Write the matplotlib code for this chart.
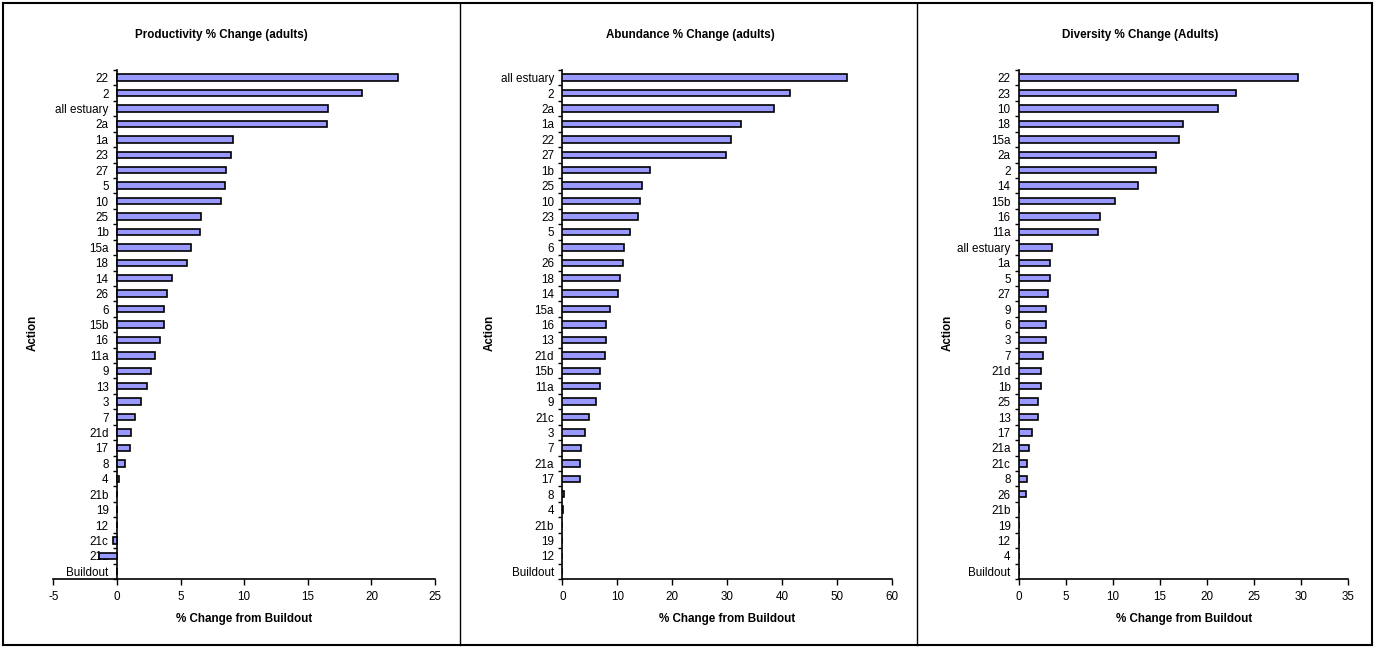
import numpy as np
import matplotlib
matplotlib.use("Agg")
import matplotlib.pyplot as plt
from matplotlib.lines import Line2D
from matplotlib.ticker import FixedLocator

plt.rcParams['font.family'] = ['Liberation Sans', 'DejaVu Sans']
plt.rcParams['axes.unicode_minus'] = False

# Productivity % change (adults)
prod_actions = ["22", "2", "all estuary", "2a", "1a", "23", "27", "5", "10", "25", "1b",
                "15a", "18", "14", "26", "6", "15b", "16", "11a", "9", "13", "3", "7",
                "21d", "17", "8", "4", "21b", "19", "12", "21c", "21a", "Buildout"]
prod_values = [22.1, 19.3, 16.6, 16.5, 9.1, 9.0, 8.6, 8.5, 8.2, 6.6, 6.5,
               5.8, 5.5, 4.3, 3.9, 3.7, 3.7, 3.4, 3.0, 2.7, 2.4, 1.9, 1.4,
               1.1, 1.0, 0.6, 0.15, 0, 0, 0, -0.3, -1.4, 0]

# Abundance % change (adults)
abund_actions = ["all estuary", "2", "2a", "1a", "22", "27", "1b", "25", "10", "23", "5",
                 "6", "26", "18", "14", "15a", "16", "13", "21d", "15b", "11a", "9",
                 "21c", "3", "7", "21a", "17", "8", "4", "21b", "19", "12", "Buildout"]
abund_values = [51.8, 41.5, 38.5, 32.6, 30.7, 29.8, 15.9, 14.5, 14.1, 13.8, 12.3,
                11.2, 11.1, 10.6, 10.2, 8.7, 8.0, 7.9, 7.8, 6.9, 6.9, 6.2,
                4.8, 4.1, 3.4, 3.3, 3.3, 0.4, 0.2, 0, 0, 0, 0]

# Diversity % change (adults)
div_actions = ["22", "23", "10", "18", "15a", "2a", "2", "14", "15b", "16", "11a",
               "all estuary", "1a", "5", "27", "9", "6", "3", "7", "21d", "1b", "25",
               "13", "17", "21a", "21c", "8", "26", "21b", "19", "12", "4", "Buildout"]
div_values = [29.7, 23.1, 21.1, 17.4, 17.0, 14.6, 14.6, 12.6, 10.2, 8.6, 8.4,
              3.5, 3.3, 3.3, 3.1, 2.9, 2.9, 2.9, 2.5, 2.3, 2.3, 2.0,
              2.0, 1.4, 1.1, 0.9, 0.9, 0.7, 0, 0, 0, 0, 0]

titles = ["Productivity % Change (adults)", "Abundance % Change (adults)",
          "Diversity % Change (Adults)"]
xlims = [(-5, 25), (0, 60), (0, 35)]
xsteps = [5, 10, 5]

FS = 8.4
W, H = 1374, 647
fig = plt.figure(figsize=(W / 100, H / 100), dpi=100)

# axes boxes in pixels: left, right
ax_px = [(53.3, 435.0), (562.3, 891.7), (1019.0, 1348.3)]
top_px, bot_px = 70.0, 579.0
title_x = [221, 690, 1140]
ylabel_x = [33, 490, 948]

panels = [(prod_actions, prod_values), (abund_actions, abund_values),
          (div_actions, div_values)]

for i, (actions, values) in enumerate(panels):
    l, r = ax_px[i]
    ax = fig.add_axes([l / W, 1 - bot_px / H, (r - l) / W, (bot_px - top_px) / H])
    ax.set_axisbelow(True)
    y = np.arange(len(actions))
    ax.barh(y, values, height=0.42, color="#9999ff", edgecolor="black",
            linewidth=1.2, zorder=3)
    ax.set_ylim(len(actions) - 0.5, -0.5)
    lo, hi = xlims[i]
    ax.set_xlim(lo, hi)
    ax.set_xticks(np.arange(lo, hi + 0.1, xsteps[i]))
    ax.set_yticks(y)
    ax.set_yticklabels(actions)
    ax.yaxis.set_minor_locator(FixedLocator(np.arange(-0.5, len(actions), 1)))
    ax.tick_params(axis="y", which="major", length=0, pad=6, labelsize=FS)
    ax.tick_params(axis="y", which="minor", length=3, width=1.0, direction="out")
    ax.tick_params(axis="x", which="major", length=4, width=1.0, direction="out",
                   pad=5, labelsize=FS)
    for s in ["top", "right"]:
        ax.spines[s].set_visible(False)
    ax.spines["left"].set_position(("data", 0))
    ax.spines["left"].set_linewidth(1.2)
    ax.spines["bottom"].set_linewidth(1.2)
    ax.set_xlabel("% Change from Buildout", fontsize=FS, fontweight="bold", labelpad=7)

    fig.text(title_x[i] / W, 1 - 35 / H, titles[i], ha="center", va="center",
             fontsize=FS, fontweight="bold")
    fig.text(ylabel_x[i] / W, 1 - 333 / H, "Action", ha="center", va="center",
             rotation=90, fontsize=FS, fontweight="bold")

# panel frames
x0, x1 = 3 / W, 1372 / W
y0, y1 = 1 - 645 / H, 1 - 3 / H
frame = [([x0, x1], [y0, y0]), ([x0, x1], [y1, y1]),
         ([x0, x0], [y0, y1]), ([x1, x1], [y0, y1])]
for xs, ys in frame:
    fig.add_artist(Line2D(xs, ys, color="black", linewidth=1.5))
for xd in [460, 917]:
    fig.add_artist(Line2D([xd / W, xd / W], [y0, y1], color="black", linewidth=1.0))

fig.savefig("out.png", dpi=100, facecolor="white")
